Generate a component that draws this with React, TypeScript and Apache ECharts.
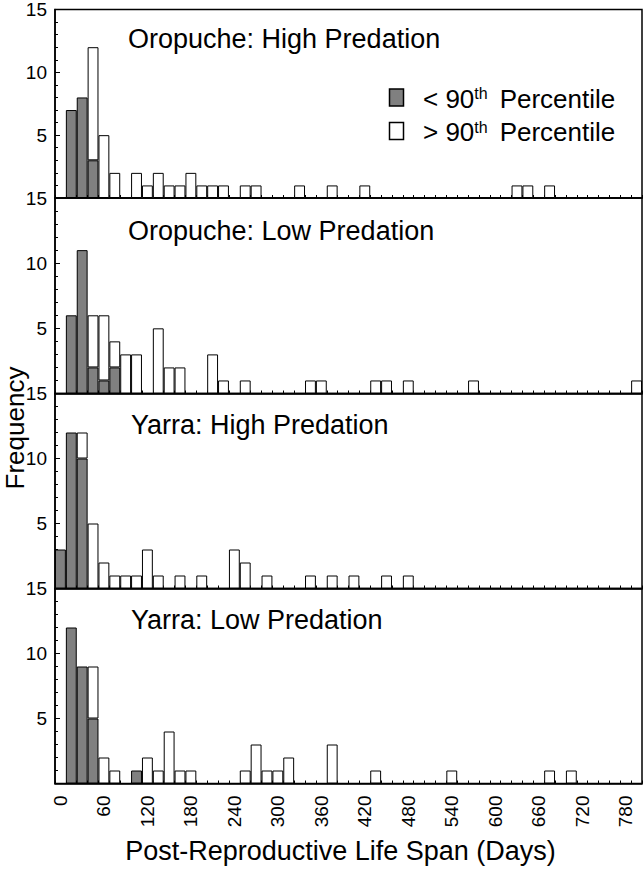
import React, { useEffect, useRef } from 'react';
import * as echarts from 'echarts';

// 15-day bins, 0 .. 810 days (54 bins)
const binStarts: string[] = [
  '0','15','30','45','60','75','90','105','120','135','150','165','180','195','210','225','240','255',
  '270','285','300','315','330','345','360','375','390','405','420','435','450','465','480','495','510','525',
  '540','555','570','585','600','615','630','645','660','675','690','705','720','735','750','765','780','795',
];
const xTickLabels: string[] = ['0','60','120','180','240','300','360','420','480','540','600','660','720','780'];

// Oropuche: High Predation
const ohGray = [0,7,8,3,0,0,0,0,0,0, 0,0,0,0,0,0,0,0,0,0, 0,0,0,0,0,0,0,0,0,0, 0,0,0,0,0,0,0,0,0,0, 0,0,0,0,0,0,0,0,0,0, 0,0,0,0];
const ohWhite = [0,0,0,9,5,2,0,2,1,2, 1,1,2,1,1,1,0,1,1,0, 0,0,1,0,0,1,0,0,1,0, 0,0,0,0,0,0,0,0,0,0, 0,0,1,1,0,1,0,0,0,0, 0,0,0,0];
// Oropuche: Low Predation
const olGray = [0,6,11,2,1,2,0,0,0,0, 0,0,0,0,0,0,0,0,0,0, 0,0,0,0,0,0,0,0,0,0, 0,0,0,0,0,0,0,0,0,0, 0,0,0,0,0,0,0,0,0,0, 0,0,0,0];
const olWhite = [0,0,0,4,5,2,3,3,0,5, 2,2,0,0,3,1,0,1,0,0, 0,0,0,1,1,0,0,0,0,1, 1,0,1,0,0,0,0,0,1,0, 0,0,0,0,0,0,0,0,0,0, 0,0,0,1];
// Yarra: High Predation
const yhGray = [3,12,10,0,0,0,0,0,0,0, 0,0,0,0,0,0,0,0,0,0, 0,0,0,0,0,0,0,0,0,0, 0,0,0,0,0,0,0,0,0,0, 0,0,0,0,0,0,0,0,0,0, 0,0,0,0];
const yhWhite = [0,0,2,5,2,1,1,1,3,1, 0,1,0,1,0,0,3,2,0,1, 0,0,0,1,0,1,0,1,0,0, 1,0,1,0,0,0,0,0,0,0, 0,0,0,0,0,0,0,0,0,0, 0,0,0,0];
// Yarra: Low Predation
const ylGray = [0,12,9,5,0,0,0,1,0,0, 0,0,0,0,0,0,0,0,0,0, 0,0,0,0,0,0,0,0,0,0, 0,0,0,0,0,0,0,0,0,0, 0,0,0,0,0,0,0,0,0,0, 0,0,0,0];
const ylWhite = [0,0,0,4,2,1,0,0,2,1, 4,1,1,0,0,0,0,1,3,1, 1,2,0,0,0,3,0,0,0,1, 0,0,0,0,0,0,1,0,0,0, 0,0,0,0,0,1,0,1,0,0, 0,0,0,0];

const panelTitles = ['Oropuche: High Predation', 'Oropuche: Low Predation', 'Yarra: High Predation', 'Yarra: Low Predation'];
const legendLabels = ['< 90', '> 90'];

const FONT = '"Liberation Sans", Arial, Helvetica, sans-serif';

export default function App() {
  const ref = useRef<HTMLDivElement>(null);
  useEffect(() => {
    if (!ref.current) return;
    const chart = echarts.init(ref.current, null, { renderer: 'svg' });
    const panels = [
      { title: panelTitles[0], gray: ohGray, white: ohWhite, top: 6.5, height: 191.5, tx: 128, ty: 39 },
      { title: panelTitles[1], gray: olGray, white: olWhite, top: 198, height: 195.5, tx: 128, ty: 231 },
      { title: panelTitles[2], gray: yhGray, white: yhWhite, top: 393.5, height: 195, tx: 131, ty: 425 },
      { title: panelTitles[3], gray: ylGray, white: ylWhite, top: 588.5, height: 195, tx: 131, ty: 620 },
    ];
    const toData = (arr: number[]) => arr.map((v) => (v ? v : '-'));
    const option: any = {
      animation: false,
      backgroundColor: '#fff',
      textStyle: { fontFamily: FONT },
      grid: panels.map((p) => ({
        left: 55, width: 587, top: p.top, height: p.height,
        show: true, borderColor: '#000', borderWidth: 1.5, backgroundColor: 'transparent',
      })),
      xAxis: panels.map((p, i) => ({
        type: 'category', gridIndex: i, data: binStarts, boundaryGap: true,
        axisLine: { show: true, lineStyle: { color: '#000', width: 1.5 } },
        axisTick: { show: true, inside: true, interval: 0, length: 3, lineStyle: { color: '#000', width: 1 } },
        axisLabel: {
          show: i === 3, interval: 0, rotate: 90, fontSize: 19, color: '#000', fontFamily: FONT, margin: 12,
          formatter: (v: string) => (xTickLabels.indexOf(v) >= 0 ? v : ''),
        },
        splitLine: { show: false },
      })),
      yAxis: panels.map((p, i) => ({
        type: 'value', gridIndex: i, min: 0, max: 15, interval: 5,
        axisLine: { show: true, lineStyle: { color: '#000', width: 1.5 } },
        axisTick: { show: true, inside: true, length: 5, lineStyle: { color: '#000' } },
        minorTick: { show: true, splitNumber: 5, length: 3, lineStyle: { color: '#000' } },
        axisLabel: { fontSize: 19, color: '#000', fontFamily: FONT, margin: 8, formatter: (v: number) => (v === 0 ? '' : String(v)) },
        splitLine: { show: false },
        minorSplitLine: { show: false },
      })),
      series: panels.flatMap((p, i) => [
        {
          type: 'bar', name: '< 90th Percentile', xAxisIndex: i, yAxisIndex: i, stack: 's' + i,
          data: toData(p.gray), barCategoryGap: '0%', barGap: '0%',
          itemStyle: { color: '#808080', borderColor: '#000', borderWidth: 1 },
        },
        {
          type: 'bar', name: '> 90th Percentile', xAxisIndex: i, yAxisIndex: i, stack: 's' + i,
          data: toData(p.white), barCategoryGap: '0%', barGap: '0%',
          itemStyle: { color: '#ffffff', borderColor: '#000', borderWidth: 1 },
        },
      ]),
      graphic: [
        ...panels.map((p) => ({
          type: 'text', x: p.tx, y: p.ty,
          style: { text: p.title, fontSize: 27, fontFamily: FONT, fill: '#000', align: 'left', verticalAlign: 'middle' },
        })),
        { type: 'rect', shape: { x: 389.5, y: 89, width: 14, height: 17 }, style: { fill: '#808080', stroke: '#000', lineWidth: 1.5 } },
        { type: 'rect', shape: { x: 389.5, y: 122.5, width: 14, height: 17 }, style: { fill: '#fff', stroke: '#000', lineWidth: 1.5 } },
        ...legendLabels.map((t, k) => ({
          type: 'text', x: 423, y: k === 0 ? 98.5 : 132,
          style: {
            text: '{a|' + t + '}{s|th}{a|Percentile}',
            verticalAlign: 'middle', align: 'left',
            rich: {
              a: { fontSize: 26, fontFamily: FONT, fill: '#000', lineHeight: 26 },
              s: { fontSize: 16, fontFamily: FONT, fill: '#000', verticalAlign: 'top', lineHeight: 16, padding: [0, 12, 0, 0] },
            },
          },
        })),
        {
          type: 'text', x: 340.5, y: 851,
          style: { text: 'Post-Reproductive Life Span (Days)', fontSize: 27, fontFamily: FONT, fill: '#000', align: 'center', verticalAlign: 'middle' },
        },
        {
          type: 'text', x: 15, y: 428, rotation: Math.PI / 2,
          style: { text: 'Frequency', fontSize: 26, fontFamily: FONT, fill: '#000', align: 'center', verticalAlign: 'middle' },
        },
      ],
    };
    chart.setOption(option);
    return () => chart.dispose();
  }, []);
  return <div ref={ref} style={{ position: 'absolute', left: 0, top: 0, width: 644, height: 869, background: '#fff' }} />;
}
